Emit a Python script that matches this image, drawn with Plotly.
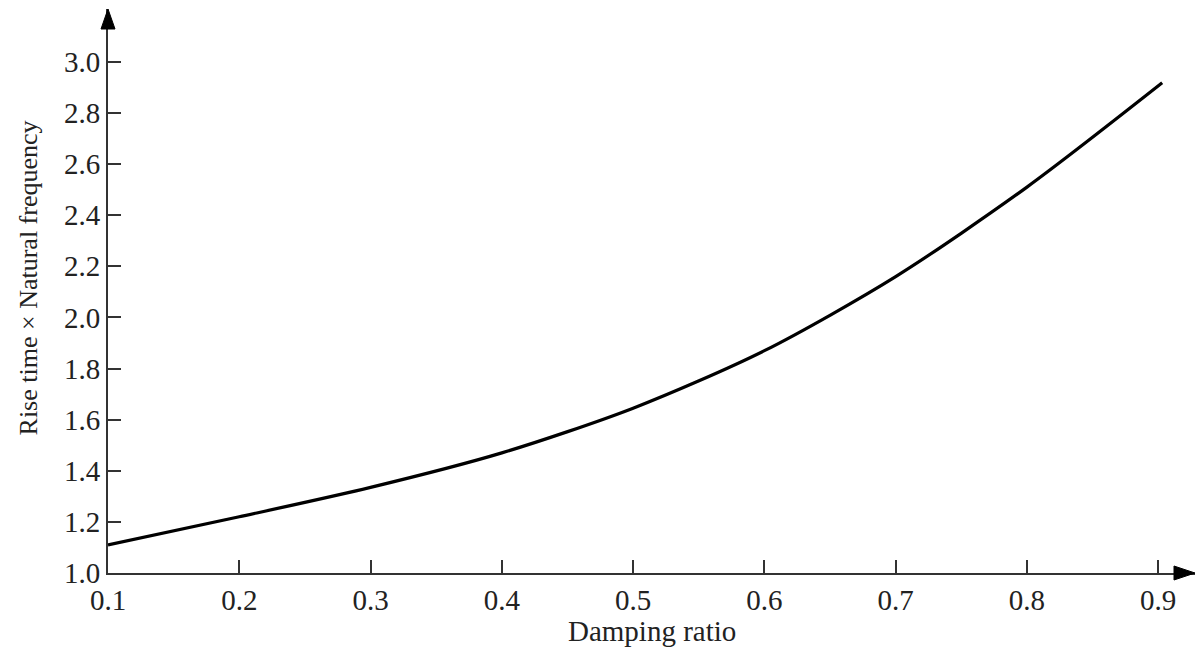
import plotly.graph_objects as go

# Data
damping_ratio = [0.1, 0.2, 0.3, 0.4, 0.5, 0.6, 0.7, 0.8, 0.903]
rise_time_wn = [1.11, 1.22, 1.335, 1.47, 1.645, 1.87, 2.16, 2.51, 2.918]

x_ticks = [0.1, 0.2, 0.3, 0.4, 0.5, 0.6, 0.7, 0.8, 0.9]
x_tick_labels = ["0.1", "0.2", "0.3", "0.4", "0.5", "0.6", "0.7", "0.8", "0.9"]
y_ticks = [1.0, 1.2, 1.4, 1.6, 1.8, 2.0, 2.2, 2.4, 2.6, 2.8, 3.0]
y_tick_labels = ["1.0", "1.2", "1.4", "1.6", "1.8", "2.0", "2.2", "2.4", "2.6", "2.8", "3.0"]

x_title = "Damping ratio"
y_title = "Rise time × Natural frequency"

X_RANGE = [0.1, 0.928]
Y_RANGE = [1.0, 3.207]

FONT = "Liberation Serif"
AXIS_COLOR = "#333333"
TEXT_COLOR = "#222222"

fig = go.Figure()
fig.add_trace(go.Scatter(
    x=damping_ratio, y=rise_time_wn, mode="lines",
    line=dict(color="#000000", width=3.2, shape="spline", smoothing=0.8),
    hoverinfo="skip", showlegend=False,
))

axis_common = dict(
    showline=True, linecolor=AXIS_COLOR, linewidth=2,
    showgrid=False, zeroline=False,
    ticks="inside", ticklen=13, tickwidth=2, tickcolor=AXIS_COLOR,
    tickfont=dict(family=FONT, size=29, color=TEXT_COLOR),
    mirror=False,
)

fig.update_xaxes(range=X_RANGE, tickvals=x_ticks, ticktext=x_tick_labels, **axis_common)
fig.update_yaxes(range=Y_RANGE, tickvals=y_ticks, ticktext=y_tick_labels, **axis_common)

# Arrowheads at axis ends (pixel-sized paths, anchored in paper coords so not clipped)
fig.add_shape(type="path", xref="paper", yref="paper", xsizemode="pixel", ysizemode="pixel",
              xanchor=0, yanchor=1,
              path="M -7 -20 L 0 0 L 7 -20 Z",
              fillcolor="#000000", line=dict(color="#000000", width=1), layer="above")
fig.add_shape(type="path", xref="paper", yref="paper", xsizemode="pixel", ysizemode="pixel",
              xanchor=1, yanchor=0,
              path="M -21 -7 L 0 0 L -21 7 Z",
              fillcolor="#000000", line=dict(color="#000000", width=1), layer="above")

fig.add_annotation(text=x_title, xref="paper", yref="paper", x=0.5, y=-0.103,
                   xanchor="center", yanchor="middle", showarrow=False,
                   font=dict(family=FONT, size=29, color=TEXT_COLOR))
fig.add_annotation(text=y_title, xref="paper", yref="paper", x=-0.0736, y=0.524,
                   xanchor="center", yanchor="middle", showarrow=False, textangle=-90,
                   font=dict(family=FONT, size=26, color=TEXT_COLOR))

fig.update_layout(
    width=1196, height=650,
    margin=dict(l=108, r=1, t=9, b=77),
    paper_bgcolor="white", plot_bgcolor="white",
)

fig.write_html("out.html")
